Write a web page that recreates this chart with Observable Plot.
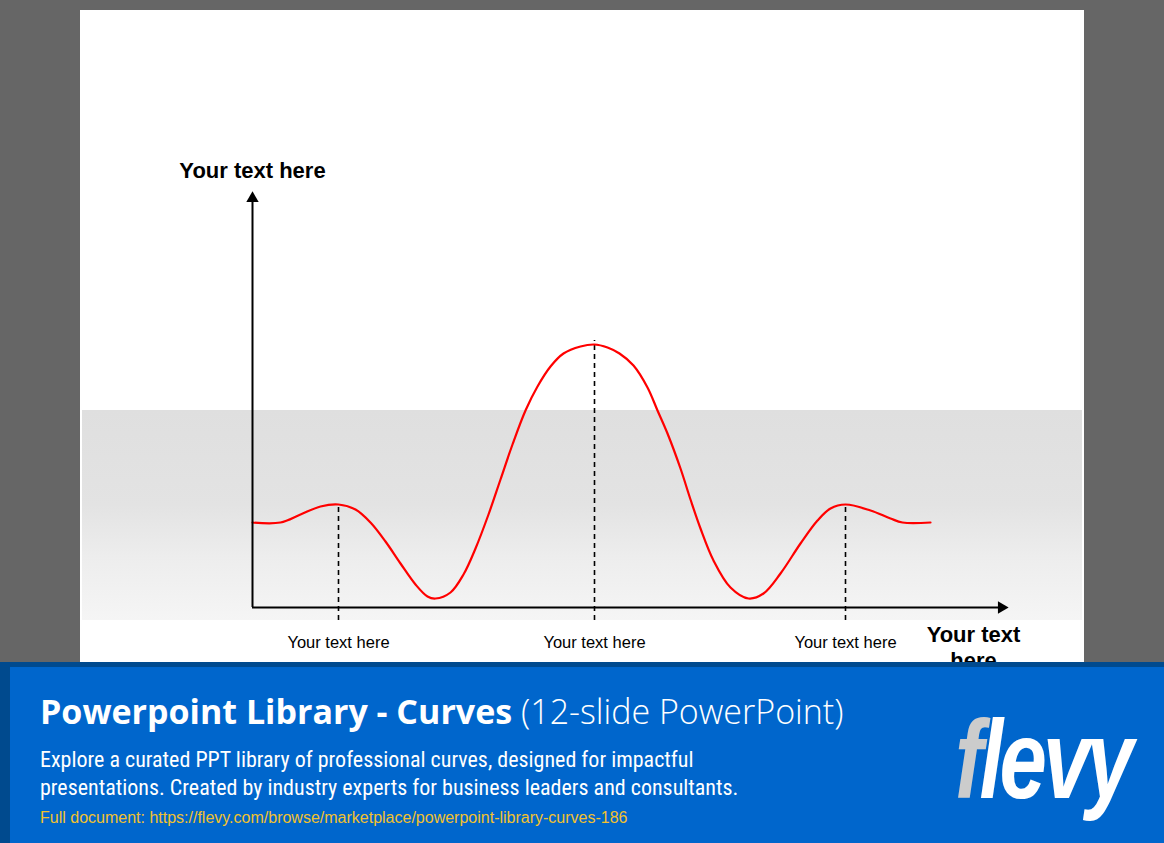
<!DOCTYPE html>
<html>
<head>
<meta charset="utf-8">
<script src="https://cdn.jsdelivr.net/npm/d3@7"></script>
<script src="https://cdn.jsdelivr.net/npm/@observablehq/plot@0.6"></script>
<style>
  html, body { margin: 0; padding: 0; }
  body { width: 1164px; height: 843px; background: #666666; position: relative; overflow: hidden; font-family: "Liberation Sans", Arial, sans-serif; }
  #slide { position: absolute; left: 80px; top: 10px; width: 1004px; height: 652px; background: #ffffff; }
  #band { position: absolute; left: 2px; top: 400px; width: 1000px; height: 210px;
          background: linear-gradient(#dfdfdf 0%, #e3e3e3 45%, #ededed 70%, #f5f5f5 100%); }
  #chart { position: absolute; left: 0; top: 0; }
  #banner { position: absolute; left: 0; top: 662px; width: 1164px; height: 181px; background: #0066cc; }
  #banner .topstrip { position: absolute; left: 0; top: 0; width: 1164px; height: 5px; background: #004a8e; }
  #banner .leftstrip { position: absolute; left: 0; top: 0; width: 10px; height: 181px; background: #004a8e; }
  #title { position: absolute; left: 40px; top: 26px; color: #fff; font-family: "Open Sans", sans-serif; font-size: 34px; white-space: nowrap; }
  #title b { font-weight: 700; }
  #title span { font-weight: 300; }
  #desc { position: absolute; left: 40px; top: 84px; color: #fff; font-family: "Liberation Sans Narrow", "Roboto Condensed", Roboto, sans-serif; font-size: 22px; line-height: 28px; white-space: nowrap; }
  #link { position: absolute; left: 40px; top: 147px; color: #f2c12e; font-family: "Liberation Sans", Arial, sans-serif; font-size: 16px; white-space: nowrap; }
  #logo { position: absolute; left: 955px; top: 36px; font-family: "Liberation Sans", Arial, sans-serif; font-weight: 700; font-style: italic; font-size: 112px; line-height: 124px; letter-spacing: -5px; color: #fff; transform: scaleX(0.76); transform-origin: left top; white-space: nowrap; }
  #logo .f { color: #cccccc; }
</style>
</head>
<body>
<div id="slide">
  <div id="band"></div>
  <div id="chart"></div>
</div>
<div id="banner">
  <div class="topstrip"></div>
  <div class="leftstrip"></div>
  <div id="title"><b>Powerpoint Library - Curves</b> <span>(12-slide PowerPoint)</span></div>
  <div id="desc">Explore a curated PPT library of professional curves, designed for impactful<br>presentations. Created by industry experts for business leaders and consultants.</div>
  <div id="link">Full document: https://flevy.com/browse/marketplace/powerpoint-library-curves-186</div>
  <div id="logo"><span class="f">f</span>levy</div>
</div>
<script>
// Curve (x: distance from y-axis, y: height above x-axis)
const curveX = [0, 28, 48, 68, 86, 103, 118, 133, 148, 163, 175, 183,
                198, 211, 223, 236, 248, 260, 273, 285, 298, 311, 328, 342,
                355, 367, 381, 395, 405, 415, 428, 438, 448, 461, 478, 496,
                511, 528, 548, 565, 578, 593, 618, 638, 650, 678];
const curveY = [85, 85, 93, 101, 103, 98, 85, 66, 44, 23, 11, 9,
                15, 33, 59, 93, 128, 163, 197, 221, 241, 254, 261, 263,
                260, 254, 242, 220, 197, 174, 139, 108, 79, 47, 20, 9,
                14, 34, 64, 87, 99, 103, 97, 89, 85, 85];

// Dashed guide lines at the curve's peaks, and their labels
const guideX = [86, 342, 593];
const guideTop = [103, 267, 103];
const guideBottom = -13;
const guideLabels = ["Your text here", "Your text here", "Your text here"];

// Axis extents and titles
const xAxisEnd = 755;
const yAxisEnd = 415;
const yTitle = "Your text here";
const xTitle = "Your text\nhere";

const curve = curveX.map((x, i) => ({x, y: curveY[i]}));
const guides = guideX.map((x, i) => ({x, top: guideTop[i], bottom: guideBottom, label: guideLabels[i]}));

const chart = Plot.plot({
  width: 1004,
  height: 652,
  marginLeft: 172,
  marginRight: 77,
  marginTop: 182,
  marginBottom: 55,
  x: {domain: [0, xAxisEnd], axis: null},
  y: {domain: [0, yAxisEnd], axis: null},
  style: {background: "transparent", overflow: "visible"},
  marks: [
    Plot.ruleX(guides, {x: "x", y1: "bottom", y2: "top", stroke: "#000", strokeWidth: 1.6, strokeDasharray: "5,4"}),
    Plot.line(curve, {x: "x", y: "y", stroke: "#ff0000", strokeWidth: 2.2, curve: "catmull-rom"}),
    Plot.ruleY([0], {x1: 0, x2: xAxisEnd - 8, stroke: "#000", strokeWidth: 2}),
    Plot.ruleX([0], {y1: 0, y2: yAxisEnd - 8, stroke: "#000", strokeWidth: 2}),
    Plot.dot([{x: xAxisEnd - 6, y: 0}], {x: "x", y: "y", symbol: "triangle", r: 4.6, fill: "#000", stroke: null, rotate: 90}),
    Plot.dot([{x: 0, y: yAxisEnd - 6}], {x: "x", y: "y", symbol: "triangle", r: 4.6, fill: "#000", stroke: null}),
    Plot.text(guides, {x: "x", y: -35, text: "label", fill: "#000", fontSize: 16.5, fontFamily: "Liberation Sans, Arial, sans-serif"}),
    Plot.text([yTitle], {x: 0, y: 437, text: d => d, fill: "#000", fontSize: 22, fontWeight: "bold", fontFamily: "Liberation Sans, Arial, sans-serif"}),
    Plot.text([xTitle], {x: 721, y: -39, text: d => d, fill: "#000", fontSize: 22, fontWeight: "bold", lineHeight: 1.2, fontFamily: "Liberation Sans, Arial, sans-serif"})
  ]
});
document.getElementById("chart").appendChild(chart);
</script>
</body>
</html>
